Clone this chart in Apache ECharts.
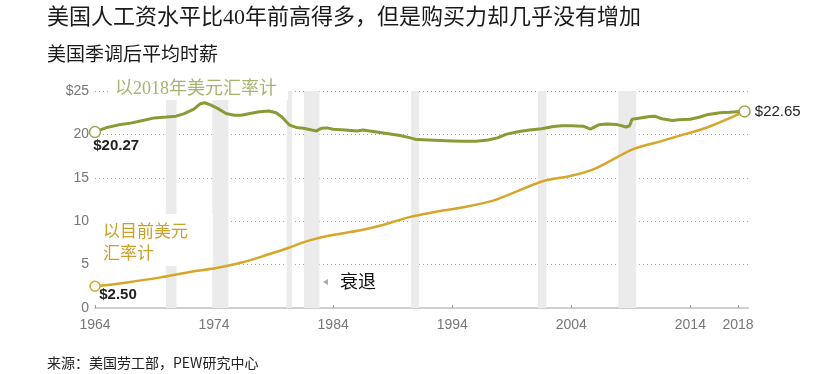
<!DOCTYPE html>
<html>
<head>
<meta charset="utf-8">
<script src="https://cdn.jsdelivr.net/npm/echarts@6/dist/echarts.min.js"></script>
<style>html,body{margin:0;padding:0;background:#fff;}#c{width:824px;height:374px;}</style>
</head>
<body>
<div id="c"></div>
<script>
// ---- data ----
const titleText = '美国人工资水平比40年前高得多，但是购买力却几乎没有增加';
const subtitleText = '美国季调后平均时薪';
const sourceText = '来源：美国劳工部，PEW研究中心';
const realLabel = '以2018年美元汇率计';
const nominalLabel = '以目前美元\n汇率计';
const recessionLabel = '衰退';

const xTicks = [1964, 1974, 1984, 1994, 2004, 2014, 2018];
const yTicks = [0, 5, 10, 15, 20, 25];

// real wages, 2018 dollars [year, value]
const realWages = [
  [1964.0,20.27],[1965.0,20.8],[1966.0,21.1],[1967.0,21.3],[1968.0,21.6],[1969.0,21.9],
  [1970.0,22.0],[1970.8,22.1],[1971.5,22.4],[1972.3,22.9],[1972.8,23.5],[1973.2,23.65],
  [1973.7,23.4],[1974.3,23.0],[1975.0,22.4],[1975.7,22.2],[1976.3,22.2],[1977.0,22.4],
  [1977.8,22.6],[1978.6,22.7],[1979.2,22.5],[1979.7,22.0],[1980.3,21.1],[1980.9,20.8],
  [1981.5,20.7],[1982.2,20.5],[1982.6,20.4],[1983.0,20.7],[1983.5,20.75],[1984.0,20.6],
  [1985.0,20.5],[1986.0,20.4],[1986.5,20.5],[1987.5,20.3],[1988.5,20.1],[1989.5,19.9],
  [1990.5,19.6],[1991.0,19.4],[1992.0,19.35],[1993.0,19.3],[1994.0,19.25],[1995.0,19.2],
  [1996.0,19.2],[1997.0,19.35],[1997.8,19.6],[1998.5,20.0],[1999.5,20.3],[2000.5,20.5],
  [2001.5,20.65],[2002.5,20.9],[2003.2,21.0],[2004.0,21.0],[2005.0,20.95],[2005.6,20.6],
  [2006.3,21.1],[2007.0,21.2],[2007.8,21.15],[2008.6,20.85],[2008.9,21.0],[2009.1,21.75],
  [2009.8,21.9],[2010.6,22.05],[2011.0,22.1],[2011.6,21.8],[2012.5,21.6],[2013.0,21.7],
  [2014.0,21.75],[2014.8,22.0],[2015.5,22.3],[2016.5,22.5],[2017.3,22.55],[2017.9,22.6],
  [2018.55,22.65]
];

// nominal wages, current dollars [year, value]
const nominalWages = [
  [1964.0,2.50],[1966.7,2.95],[1969.4,3.5],[1972.2,4.2],[1974.2,4.6],[1976.5,5.3],
  [1978.4,6.1],[1980.1,6.85],[1981.8,7.7],[1983.5,8.3],[1986.3,8.95],[1988.0,9.5],
  [1990.5,10.5],[1993.3,11.25],[1994.7,11.55],[1997.5,12.4],[2001.6,14.6],[2003.9,15.2],
  [2005.9,16.0],[2009.2,18.3],[2011.5,19.2],[2012.6,19.65],[2015.4,20.8],[2017.1,21.75],
  [2018.55,22.65]
];

// recessions [start, end]
const recessions = [
  [1969.95,1970.85],[1973.85,1975.2],[1980.1,1980.55],[1981.55,1982.85],
  [1990.55,1991.2],[2001.2,2001.9],[2007.95,2009.45]
];

// ---- chart ----
const green = '#8c9a36';
const gold = '#d6a62a';
const cjk = '"Noto Sans CJK SC", sans-serif';
const mixed = '"Liberation Serif", "Noto Sans CJK SC", serif';
const latin = '"Liberation Sans", Arial, sans-serif';

const chart = echarts.init(document.getElementById('c'), null, {renderer: 'canvas'});
const rStart = realWages[0], rEnd = realWages[realWages.length - 1];
const nStart = nominalWages[0];

chart.setOption({
  backgroundColor: '#fff',
  animation: false,
  title: [
    {text: titleText, left: 42, top: 2, textStyle: {fontSize: 22, fontWeight: 'normal', color: '#1a1a1a', fontFamily: mixed}},
    {text: subtitleText, left: 42, top: 39, textStyle: {fontSize: 19, fontWeight: 'normal', color: '#1a1a1a', fontFamily: cjk}},
    {text: sourceText, left: 42, top: 351, textStyle: {fontSize: 14, fontWeight: 'normal', color: '#222', fontFamily: cjk}}
  ],
  grid: {left: 95, right: 76, top: 91, bottom: 66, containLabel: false},
  xAxis: {
    type: 'value', min: 1964, max: 2018.84,
    axisLine: {show: true, lineStyle: {color: '#cfcfcf', width: 2}},
    axisTick: {show: true, inside: true, length: 3, customValues: xTicks, lineStyle: {color: '#999'}},
    axisLabel: {customValues: xTicks, color: '#777', fontSize: 14, fontFamily: latin, margin: 10, formatter: v => String(v)},
    splitLine: {show: false}
  },
  yAxis: {
    type: 'value', min: 0, max: 25, interval: 5,
    axisLine: {show: false}, axisTick: {show: false},
    axisLabel: {color: '#777', fontSize: 14, fontFamily: latin, margin: 6, formatter: v => v === 25 ? '$25' : String(v)},
    splitLine: {show: true, lineStyle: {color: '#a8a8a8', type: [1, 3], width: 1}},
    data: yTicks
  },
  series: [
    {
      type: 'line', name: 'nominal', data: nominalWages, showSymbol: false, smooth: 0.3,
      lineStyle: {color: gold, width: 2.5}, z: 3,
      markArea: {
        silent: true,
        itemStyle: {color: '#ebebeb'},
        data: recessions.map(r => [{xAxis: r[0]}, {xAxis: r[1]}])
      },
      markPoint: {
        silent: true, symbol: 'circle', symbolSize: 10,
        itemStyle: {color: '#fff', borderColor: gold, borderWidth: 1.5},
        data: [{coord: nStart, label: {show: true, formatter: '$' + nStart[1].toFixed(2), position: [10, 7], color: '#222', fontSize: 15, fontWeight: 'bold', fontFamily: latin}}]
      }
    },
    {
      type: 'line', name: 'real', data: realWages, showSymbol: false,
      lineStyle: {color: green, width: 3}, z: 4,
      markPoint: {
        silent: true, symbol: 'circle', symbolSize: 11,
        itemStyle: {color: '#fff', borderColor: '#9aa84c', borderWidth: 1.5},
        data: [
          {coord: rStart, label: {show: true, formatter: '$' + rStart[1].toFixed(2), position: [4.5, 13], color: '#222', fontSize: 15, fontWeight: 'bold', fontFamily: latin}},
          {coord: rEnd, label: {show: true, formatter: '$' + rEnd[1].toFixed(2), position: 'right', distance: 4, color: '#222', fontSize: 15, fontFamily: latin}}
        ]
      }
    }
  ],
  graphic: [
    {type: 'rect', z: 100, shape: {x: 110, y: 78, width: 178, height: 22}, style: {fill: '#fff'}},
    {type: 'text', z: 101, x: 115, y: 89, style: {text: realLabel, fill: '#a9b36f', font: '18px ' + mixed, textVerticalAlign: 'middle'}},
    {type: 'rect', z: 100, shape: {x: 92, y: 214, width: 121, height: 52}, style: {fill: '#fff'}},
    {type: 'text', z: 101, x: 103, y: 220, style: {text: nominalLabel, fill: '#c9a12a', font: '17px ' + cjk, lineHeight: 22}},
    {type: 'rect', z: 100, shape: {x: 321, y: 268, width: 60, height: 28}, style: {fill: '#fff'}},
    {type: 'polygon', z: 101, shape: {points: [[323, 282], [328, 279], [328, 285]]}, style: {fill: '#aaa'}},
    {type: 'text', z: 101, x: 340, y: 281, style: {text: recessionLabel, fill: '#111', font: '18px ' + cjk, textVerticalAlign: 'middle'}}
  ]
});
</script>
</body>
</html>
